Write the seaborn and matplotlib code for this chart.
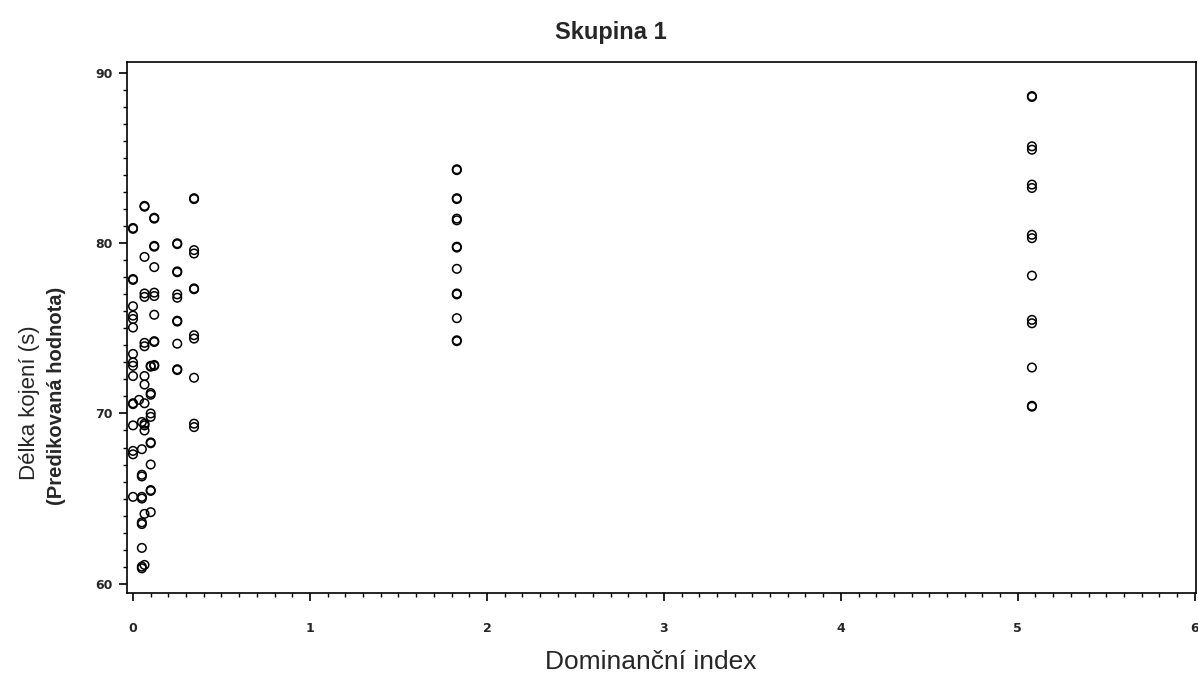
import numpy as np
import pandas as pd
import matplotlib
matplotlib.use("Agg")
import matplotlib.pyplot as plt
import seaborn as sns
from matplotlib.ticker import MultipleLocator

# dominance index of each column of points and the predicted lengths
dominance = [0.0, 0.034, 0.05, 0.065, 0.10, 0.12, 0.25, 0.345, 1.83, 5.08]

col_000 = [80.9, 80.85, 77.9, 77.85, 76.3, 75.75, 75.55, 75.05, 73.5, 73.0,
           72.8, 72.2, 70.6, 70.55, 69.3, 67.8, 67.6, 65.1]
col_003 = [70.8]
col_005 = [69.5, 67.9, 66.4, 66.3, 65.1, 65.0, 63.6, 63.5, 62.1, 61.0, 60.9]
col_007 = [82.2, 82.15, 79.2, 77.05, 76.85, 74.15, 73.95, 72.2, 71.7, 70.6,
           69.4, 69.3, 69.0, 64.1, 61.1]
col_010 = [72.8, 72.75, 71.2, 71.1, 70.0, 69.8, 68.3, 68.25, 67.0, 65.5,
           65.45, 64.2]
col_012 = [81.5, 81.45, 79.85, 79.8, 78.6, 77.1, 76.9, 75.8, 74.25, 74.2,
           72.85, 72.8]
col_025 = [80.0, 79.95, 78.35, 78.3, 77.0, 76.8, 75.45, 75.4, 74.1, 72.6, 72.55]
col_035 = [82.65, 82.6, 79.6, 79.4, 77.35, 77.3, 74.6, 74.4, 72.1, 69.4, 69.2]
col_183 = [84.35, 84.3, 82.65, 82.6, 81.45, 81.35, 79.8, 79.75, 78.5, 77.05,
           77.0, 75.6, 74.3, 74.25]
col_508 = [88.65, 88.6, 85.7, 85.5, 83.45, 83.25, 80.5, 80.3, 78.1, 75.5,
           75.3, 72.7, 70.45, 70.4]

predicted = [col_000, col_003, col_005, col_007, col_010, col_012,
             col_025, col_035, col_183, col_508]

x_ticks = [0, 1, 2, 3, 4, 5, 6]
y_ticks = [60, 70, 80, 90]

rows = []
for d, vals in zip(dominance, predicted):
    for v in vals:
        rows.append((d, v))
df = pd.DataFrame(rows, columns=["dominance", "delka"])

sns.set_style("ticks")
plt.rcParams['font.family'] = ['Liberation Sans', 'DejaVu Sans']

fig = plt.figure(figsize=(11.98, 6.82), dpi=100)
ax = fig.add_axes([0.106, 0.1305, 0.892, 0.7785])

sns.scatterplot(data=df, x="dominance", y="delka", ax=ax,
                marker="o", s=38, facecolor="none", edgecolor="black",
                linewidth=1.1, legend=False)

ax.set_xlim(-0.034, 6.005)
ax.set_ylim(59.45, 90.65)
ax.set_xticks(x_ticks)
ax.set_yticks(y_ticks)
ax.xaxis.set_minor_locator(MultipleLocator(0.1))
ax.yaxis.set_minor_locator(MultipleLocator(1))
ax.tick_params(which="major", length=6, width=1.2, color="black")
ax.tick_params(which="minor", length=3, width=1.0, color="black")
ax.tick_params(axis="x", which="major", pad=15, labelsize=9)
ax.tick_params(axis="y", which="major", pad=4, labelsize=9)
for lab in ax.get_xticklabels() + ax.get_yticklabels():
    lab.set_family(['DejaVu Sans'])
    lab.set_fontweight('bold')
for sp in ax.spines.values():
    sp.set_visible(True)
    sp.set_color("black")
    sp.set_linewidth(1.2)

ax.set_xlabel("")
ax.set_ylabel("")

fig.text(0.51, 0.953, "Skupina 1", ha="center", va="center", fontsize=17,
         fontweight="bold")
fig.text(0.543, 0.03, "Dominanční index", ha="center", va="center",
         fontsize=19)
fig.text(0.025, 0.41, "Délka kojení (s)", ha="center", va="center",
         rotation=90, fontsize=16)
fig.text(0.047, 0.42, "(Predikovaná hodnota)", ha="center", va="center",
         rotation=90, fontsize=14.5, fontweight="bold",
         family=['Liberation Sans Narrow', 'Liberation Sans', 'DejaVu Sans'])

fig.savefig("out.png", dpi=100)
